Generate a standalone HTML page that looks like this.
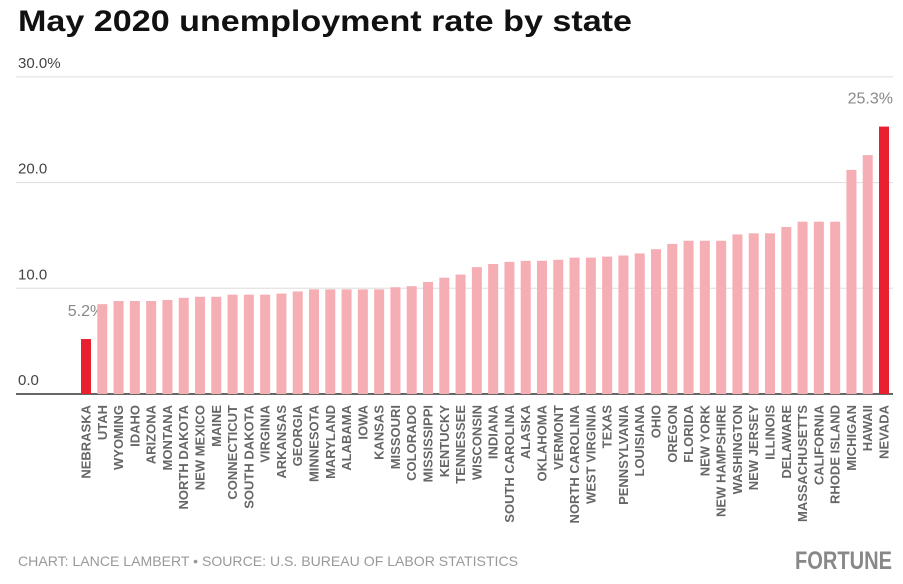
<!DOCTYPE html>
<html><head><meta charset="utf-8">
<style>
body{margin:0;background:#fff;width:903px;height:579px;overflow:hidden;font-family:"Liberation Sans",sans-serif;}
</style></head>
<body>
<svg id="chart" width="903" height="579" xmlns="http://www.w3.org/2000/svg">
<text x="18" y="31" font-size="30" font-weight="bold" fill="#111" font-family="Liberation Sans, sans-serif" textLength="614" lengthAdjust="spacingAndGlyphs">May 2020 unemployment rate by state</text>
<g id="grid"></g>
<g id="bars"></g>
<g id="xlabels"></g>
<text x="18" y="566" font-size="14" fill="#999" font-family="Liberation Sans, sans-serif" textLength="500" lengthAdjust="spacingAndGlyphs">CHART: LANCE LAMBERT • SOURCE: U.S. BUREAU OF LABOR STATISTICS</text>
<text x="892" y="569" text-anchor="end" font-size="25" font-weight="bold" fill="#888" font-family="Liberation Sans, sans-serif" textLength="97" lengthAdjust="spacingAndGlyphs">FORTUNE</text>
</svg>
<script>
const states=["NEBRASKA","UTAH","WYOMING","IDAHO","ARIZONA","MONTANA","NORTH DAKOTA","NEW MEXICO","MAINE","CONNECTICUT","SOUTH DAKOTA","VIRGINIA","ARKANSAS","GEORGIA","MINNESOTA","MARYLAND","ALABAMA","IOWA","KANSAS","MISSOURI","COLORADO","MISSISSIPPI","KENTUCKY","TENNESSEE","WISCONSIN","INDIANA","SOUTH CAROLINA","ALASKA","OKLAHOMA","VERMONT","NORTH CAROLINA","WEST VIRGINIA","TEXAS","PENNSYLVANIA","LOUISIANA","OHIO","OREGON","FLORIDA","NEW YORK","NEW HAMPSHIRE","WASHINGTON","NEW JERSEY","ILLINOIS","DELAWARE","MASSACHUSETTS","CALIFORNIA","RHODE ISLAND","MICHIGAN","HAWAII","NEVADA"];
const rates=[5.2,8.5,8.8,8.8,8.8,8.9,9.1,9.2,9.2,9.4,9.4,9.4,9.5,9.7,9.9,9.9,9.9,9.9,9.9,10.1,10.2,10.6,11.0,11.3,12.0,12.3,12.5,12.6,12.6,12.7,12.9,12.9,13.0,13.1,13.3,13.7,14.2,14.5,14.5,14.5,15.1,15.2,15.2,15.8,16.3,16.3,16.3,21.2,22.6,25.3];
const ticks=[0,10,20,30];
const tickLabels=["0.0","10.0","20.0","30.0%"];
const highlighted=["NEBRASKA","NEVADA"];
const NS="http://www.w3.org/2000/svg";
const y0=394,pxPer=10.57;
function yScale(v){return y0-v*pxPer;}
function xScale(i){return 86+i*(884-86)/(states.length-1);}
function mk(tag,attrs,parent){const e=document.createElementNS(NS,tag);for(const k in attrs)e.setAttribute(k,attrs[k]);parent.appendChild(e);return e;}
const grid=document.getElementById('grid'),bars=document.getElementById('bars'),xl=document.getElementById('xlabels');
ticks.forEach((t,i)=>{
 const l=mk('line',{x1:16,x2:893,y1:yScale(t),y2:yScale(t),stroke:t===0?'#333':'#ddd','stroke-width':t===0?1.5:1},grid);
 
 
 const tx=mk('text',{x:18,y:yScale(t)-9,'font-size':15,fill:'#444'},grid);
 tx.textContent=tickLabels[i];
 
 
});
states.forEach((s,i)=>{
 const hl=highlighted.includes(s);
 const r=mk('rect',{x:xScale(i)-5,y:yScale(rates[i]),width:10,height:rates[i]*pxPer,fill:hl?'#e8202f':'#f5aeb3'},bars);
 
 
 if(hl){
  const last=i===states.length-1;
  const v=mk('text',{x:last?893:xScale(i),y:yScale(rates[i])-23,'text-anchor':last?'end':'middle','font-size':16,fill:'#888'},bars);
  v.textContent=rates[i].toFixed(1)+'%';
  
  
 }
 const t=mk('text',{transform:`translate(${xScale(i)+4.5},405) rotate(-90)`,'text-anchor':'end','font-size':13,'font-weight':'bold',fill:'#666'},xl);
 t.textContent=s;
 
 
});
</script>
</body></html>
